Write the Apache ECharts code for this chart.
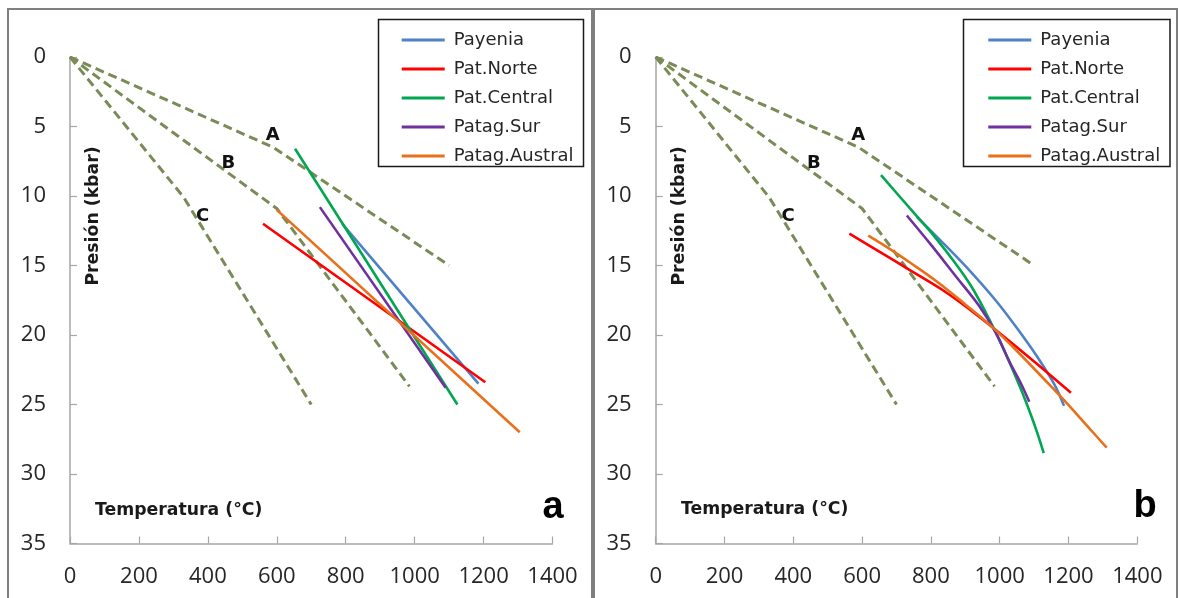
<!DOCTYPE html>
<html>
<head>
<meta charset="utf-8">
<script src="https://cdn.jsdelivr.net/npm/echarts@6/dist/echarts.min.js"></script>
<style>
  html, body { margin: 0; padding: 0; background: #ffffff; }
  #chart { width: 1179px; height: 598px; }
</style>
</head>
<body>
<div id="chart"></div>
<script>
// ---- Data -------------------------------------------------------------
const seriesNames = ['Payenia', 'Pat.Norte', 'Pat.Central', 'Patag.Sur', 'Patag.Austral'];
const seriesColors = ['#4f81c7', '#ff0000', '#00a650', '#7030a0', '#e8701a'];

// Reference geotherms A, B, C (temperature °C, pressure kbar)
const geoA_T = [0, 590, 1100];
const geoA_P = [0, 6.5, 15.0];
const geoB_T = [0, 600, 985];
const geoB_P = [0, 10.9, 23.7];
const geoC_T = [0, 330, 700];
const geoC_P = [0, 10.1, 25.0];

// Geotherm labels
const geoLabelNames = ['A', 'B', 'C'];
const geoLabelT = [590, 461, 386];
const geoLabelP = [5.7, 7.65, 11.5];

// Panel a: linear P-T arrays
const payeniaA_T = [790, 1185];
const payeniaA_P = [12.0, 23.5];
const patNorteA_T = [560, 1205];
const patNorteA_P = [12.0, 23.4];
const patCentralA_T = [653, 1124];
const patCentralA_P = [6.6, 25.0];
const patagSurA_T = [725, 1090];
const patagSurA_P = [10.8, 23.8];
const patagAustralA_T = [600, 1305];
const patagAustralA_P = [11.0, 27.0];

// Panel b: curved P-T arrays
const payeniaB_T = [759, 840, 914, 988, 1050, 1110, 1160, 1187];
const payeniaB_P = [11.5, 13.5, 15.4, 17.5, 19.5, 21.6, 23.6, 25.1];
const patNorteB_T = [563, 650, 740, 836, 920, 977, 1100, 1207];
const patNorteB_P = [12.7, 14.0, 15.35, 16.8, 18.3, 19.4, 21.9, 24.15];
const patCentralB_T = [655, 750, 810, 870, 920, 970, 1020, 1060, 1090, 1110, 1128];
const patCentralB_P = [8.5, 11.2, 12.9, 14.8, 16.6, 18.9, 21.5, 23.8, 25.7, 27.1, 28.5];
const patagSurB_T = [730, 800, 870, 940, 990, 1030, 1060, 1086];
const patagSurB_P = [11.4, 13.5, 15.7, 17.9, 19.9, 22.0, 23.4, 24.8];
const patagAustralB_T = [618, 680, 740, 820, 900, 977, 1060, 1130, 1195, 1260, 1311];
const patagAustralB_P = [12.85, 13.8, 14.8, 16.2, 17.8, 19.4, 21.4, 23.2, 24.9, 26.7, 28.1];

// ---- Helpers ------------------------------------------------------------
const zip = (t, p) => t.map((v, i) => [v, p[i]]);

const AXIS_GRAY = '#a6a6a6';
const TICK_FONT = 'Open Sans';
const TITLE_FONT = 'DejaVu Sans';

function xAxisFor(gridIndex) {
  return {
    gridIndex, type: 'value', min: 0, max: 1400, interval: 200,
    axisLine: { show: true, onZero: false, lineStyle: { color: AXIS_GRAY, width: 1.5 } },
    axisTick: { show: true, inside: true, length: 7, lineStyle: { color: AXIS_GRAY, width: 1.2 } },
    axisLabel: { fontFamily: TICK_FONT, fontSize: 22, color: '#262626', margin: 22, formatter: v => String(v) },
    splitLine: { show: false }
  };
}
function yAxisFor(gridIndex) {
  return {
    gridIndex, type: 'value', inverse: true, min: 0, max: 35, interval: 5,
    axisLine: { show: true, onZero: false, lineStyle: { color: AXIS_GRAY, width: 1.5 } },
    axisTick: { show: true, inside: true, length: 7, lineStyle: { color: AXIS_GRAY, width: 1.2 } },
    axisLabel: { fontFamily: TICK_FONT, fontSize: 22, color: '#262626', margin: 24, formatter: v => String(v) },
    splitLine: { show: false }
  };
}

function geothermSeries(idx) {
  const dash = { color: '#7a8b58', width: 3, type: [9, 5], cap: 'butt' };
  return [
    [geoA_T, geoA_P], [geoB_T, geoB_P], [geoC_T, geoC_P]
  ].map(([t, p]) => ({
    type: 'line', xAxisIndex: idx, yAxisIndex: idx, data: zip(t, p),
    symbol: 'none', silent: true, lineStyle: dash, z: 1
  }));
}

function geoLabelSeries(idx) {
  return {
    type: 'scatter', xAxisIndex: idx, yAxisIndex: idx, symbolSize: 1, silent: true,
    itemStyle: { color: 'rgba(255,255,255,0)', opacity: 1 },
    data: geoLabelNames.map((n, i) => ({ name: n, value: [geoLabelT[i], geoLabelP[i]] })),
    label: {
      show: true, position: [0, 0], align: 'center', verticalAlign: 'middle', formatter: '{b}',
      fontFamily: TITLE_FONT, fontWeight: 'bold', fontSize: 18, color: '#111111',
      textBorderWidth: 0, opacity: 1
    },
    z: 5
  };
}

function dataSeries(idx, sets, smooth) {
  return sets.map(([t, p], i) => ({
    name: seriesNames[i], type: 'line', xAxisIndex: idx, yAxisIndex: idx,
    data: zip(t, p), symbol: 'none', smooth: smooth ? 0.35 : false,
    color: seriesColors[i],
    lineStyle: { color: seriesColors[i], width: 2.6 },
    itemStyle: { color: seriesColors[i] },
    z: 3
  }));
}

function legendFor(left) {
  return {
    orient: 'vertical', left: left, top: 26,
    data: seriesNames, icon: 'rect', itemWidth: 43, itemHeight: 3, itemGap: 11,
    selectedMode: false,
    textStyle: { fontFamily: TITLE_FONT, fontSize: 18, color: '#262626', lineHeight: 18, padding: [0, 0, 0, 4] }
  };
}

// ---- Chart --------------------------------------------------------------
const chart = echarts.init(document.getElementById('chart'), null, { renderer: 'canvas' });

const setsA = [
  [payeniaA_T, payeniaA_P], [patNorteA_T, patNorteA_P], [patCentralA_T, patCentralA_P],
  [patagSurA_T, patagSurA_P], [patagAustralA_T, patagAustralA_P]
];
const setsB = [
  [payeniaB_T, payeniaB_P], [patNorteB_T, patNorteB_P], [patCentralB_T, patCentralB_P],
  [patagSurB_T, patagSurB_P], [patagAustralB_T, patagAustralB_P]
];

const titleStyle = { fontFamily: TITLE_FONT, fontWeight: 'bold', fontSize: 17.3, fill: '#1a1a1a' };

chart.setOption({
  animation: false,
  backgroundColor: '#ffffff',
  grid: [
    { left: 70, top: 57, width: 482.5, height: 486.5 },
    { left: 655.7, top: 57, width: 481.6, height: 486.5 }
  ],
  xAxis: [xAxisFor(0), xAxisFor(1)],
  yAxis: [yAxisFor(0), yAxisFor(1)],
  legend: [legendFor(396.7), legendFor(983.3)],
  series: [
    ...geothermSeries(0), geoLabelSeries(0), ...dataSeries(0, setsA, false),
    ...geothermSeries(1), geoLabelSeries(1), ...dataSeries(1, setsB, true)
  ],
  graphic: [
    // panel frames
    { type: 'rect', shape: { x: 8, y: 9, width: 584, height: 620 }, style: { fill: 'none', stroke: '#7f7f7f', lineWidth: 2 }, z: 0 },
    { type: 'rect', shape: { x: 594, y: 9, width: 583, height: 620 }, style: { fill: 'none', stroke: '#7f7f7f', lineWidth: 2 }, z: 0 },
    // legend frames
    { type: 'rect', shape: { x: 378.5, y: 19.5, width: 205, height: 147 }, style: { fill: 'none', stroke: '#1a1a1a', lineWidth: 1.5 }, z: 10 },
    { type: 'rect', shape: { x: 963.5, y: 19.5, width: 206.5, height: 147 }, style: { fill: 'none', stroke: '#1a1a1a', lineWidth: 1.5 }, z: 10 },
    // axis titles, panel a
    { type: 'text', x: 94, y: 216, rotation: Math.PI / 2,
      style: Object.assign({ text: 'Presión (kbar)', textAlign: 'center', textVerticalAlign: 'middle' }, titleStyle), z: 10 },
    { type: 'text', x: 95, y: 511,
      style: Object.assign({ text: 'Temperatura (°C)', textAlign: 'left', textVerticalAlign: 'middle' }, titleStyle), z: 10 },
    // axis titles, panel b
    { type: 'text', x: 680, y: 216, rotation: Math.PI / 2,
      style: Object.assign({ text: 'Presión (kbar)', textAlign: 'center', textVerticalAlign: 'middle' }, titleStyle), z: 10 },
    { type: 'text', x: 681, y: 510,
      style: Object.assign({ text: 'Temperatura (°C)', textAlign: 'left', textVerticalAlign: 'middle' }, titleStyle), z: 10 },
    // panel letters
    { type: 'text', x: 553, y: 508,
      style: { text: 'a', textAlign: 'center', textVerticalAlign: 'middle', fontFamily: 'Liberation Sans', fontWeight: 'bold', fontSize: 38, fill: '#000000' }, z: 10 },
    { type: 'text', x: 1145, y: 507,
      style: { text: 'b', textAlign: 'center', textVerticalAlign: 'middle', fontFamily: 'Liberation Sans', fontWeight: 'bold', fontSize: 38, fill: '#000000' }, z: 10 }
  ]
});
</script>
</body>
</html>
